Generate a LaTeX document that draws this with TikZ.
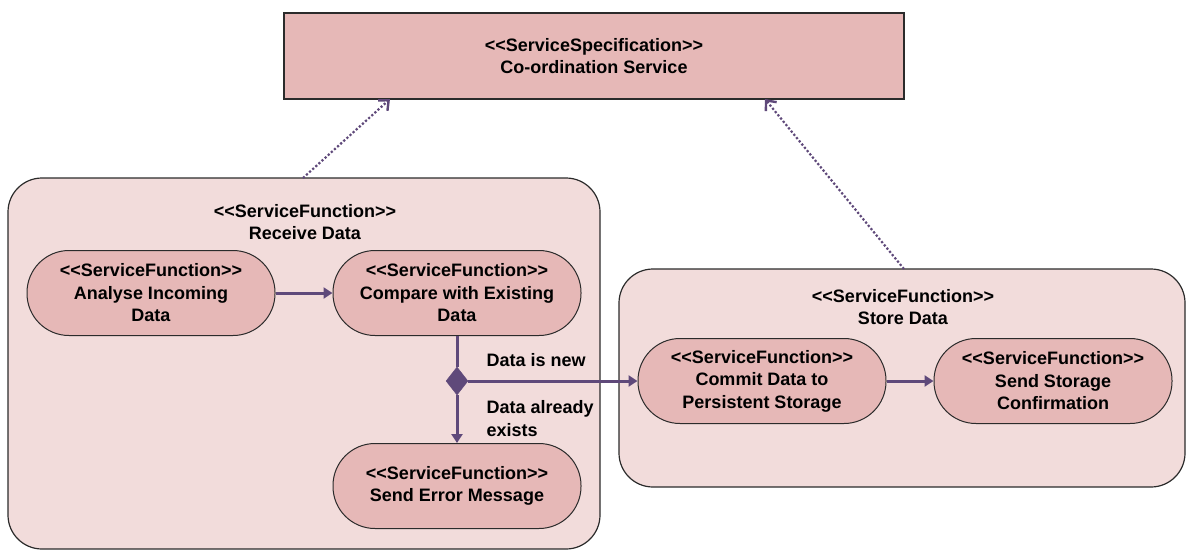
\documentclass[tikz,border=0pt]{standalone}
\usepackage{fontspec}
\setmainfont{Liberation Sans}
\usetikzlibrary{arrows.meta,shapes.geometric}
\definecolor{specfill}{HTML}{E6B8B7}
\definecolor{groupfill}{HTML}{F2DCDB}
\definecolor{flow}{HTML}{5F497A}
\definecolor{edge}{HTML}{2B2B2B}
% stereotype in guillemet-free form
\newcommand{\stereo}[1]{<{}<#1>{}>}
\tikzset{
  lbl/.style={font=\fontsize{18}{22.5}\selectfont\bfseries, text=black},
  spec/.style={draw=edge, line width=1.2pt, fill=specfill, minimum width=620pt, minimum height=86pt, inner sep=0pt, align=center, lbl},
  group/.style={draw=edge, line width=1.2pt, fill=groupfill, rounded corners=34pt},
  func/.style={draw=edge, line width=1pt, fill=specfill, rounded corners=42pt, minimum width=248pt, minimum height=85pt, inner sep=0pt, align=center, lbl},
  flowarrow/.style={draw=flow, line width=3pt, -{Triangle[length=9pt,width=11pt]}},
  flowline/.style={draw=flow, line width=3pt},
  realize/.style={draw=flow, line width=2.2pt, dotted, -{Straight Barb[length=8pt,width=14pt,line width=2.4pt]}},
  choice/.style={diamond, fill=flow, draw=flow, minimum width=22pt, minimum height=28pt, inner sep=0pt},
}
\begin{document}
\begin{tikzpicture}[x=1pt,y=-1pt]
\useasboundingbox (0,0) rectangle (1186,550);

% service specification
\node[spec] (spec) at (594,56) {\stereo{ServiceSpecification}\\Co-ordination Service};

% grouping functions
\path[group] (8,178) rectangle (600,549);
\node[lbl, align=center] (recv) at (305,222) {\stereo{ServiceFunction}\\Receive Data};
\path[group] (619,269) rectangle (1185,487);
\node[lbl, align=center] (store) at (903,307) {\stereo{ServiceFunction}\\Store Data};

\coordinate (recvtop) at (303,178);
\coordinate (storetop) at (904,269);

% leaf functions
\node[func] (analyse) at (151,293) {\stereo{ServiceFunction}\\Analyse Incoming\\Data};
\node[func] (compare) at (457,293) {\stereo{ServiceFunction}\\Compare with Existing\\Data};
\node[func] (error) at (457,486) {\stereo{ServiceFunction}\\Send Error Message};
\node[func] (commit) at (762,381) {\stereo{ServiceFunction}\\Commit Data to\\Persistent Storage};
\node[func, minimum width=238pt] (confirm) at (1053,381) {\stereo{ServiceFunction}\\Send Storage\\Confirmation};

% decision
\node[choice] (dec) at (457,381) {};

% flows
\draw[flowarrow] (analyse) -- (compare);
\draw[flowline] (compare) -- (dec);
\draw[flowarrow] (dec) -- (error);
\draw[flowarrow] (dec) -- (commit);
\draw[flowarrow] (commit) -- (confirm);

\node[lbl, anchor=west] (isnew) at (483,360) {Data is new};
\node[lbl, anchor=north west, align=left] (exists) at (483,397) {Data already\\exists};

% realizations
\draw[realize] (recvtop) -- (390,99);
\draw[realize] (storetop) -- (765,99);
\end{tikzpicture}
\end{document}
